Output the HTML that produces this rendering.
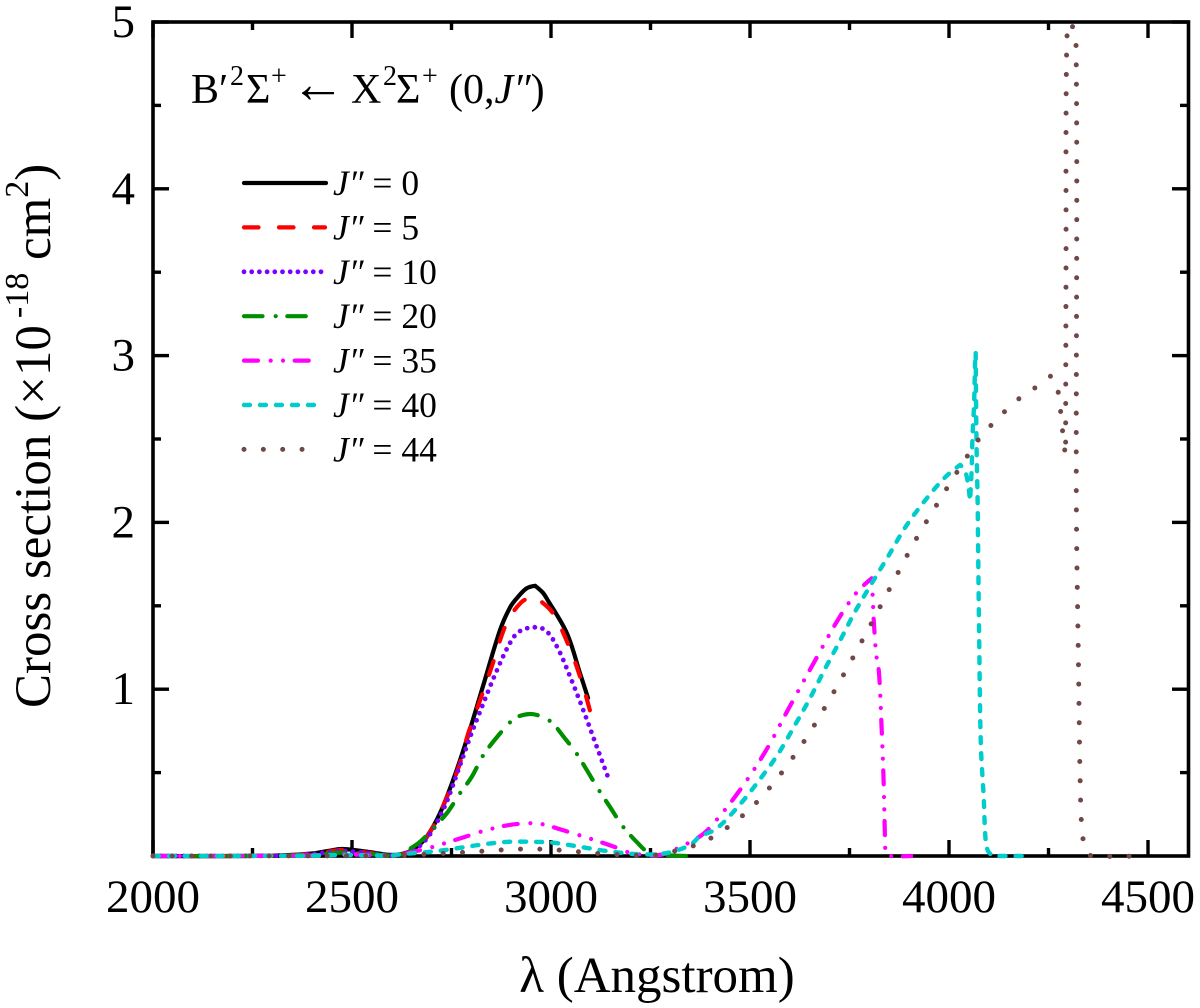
<!DOCTYPE html>
<html lang="en">
<head>
<meta charset="utf-8">
<title>Cross section chart</title>
<style>
html,body{margin:0;padding:0;background:#fff;}
svg{display:block;font-family:"Liberation Serif",serif;}
</style>
</head>
<body>
<svg id="chart" width="1200" height="1008" viewBox="0 0 1200 1008" xmlns="http://www.w3.org/2000/svg">
  <defs><clipPath id="plot-clip"><rect x="150" y="22" width="1040" height="840"/></clipPath></defs>
  <rect x="0" y="0" width="1200" height="1008" fill="#fff"/>
  <g id="ticks"></g>
  <rect x="153" y="22" width="1035.5" height="834" fill="none" stroke="#000" stroke-width="3.6"/>
  <g id="tick-labels"></g>
  <g id="series" clip-path="url(#plot-clip)"></g>
  <g id="legend"></g>
  <text font-size="42" fill="#000"><tspan x="191" y="103">B&#8242;</tspan><tspan x="230" y="85" font-size="28">2</tspan><tspan x="246" y="103">&#931;</tspan><tspan x="271" y="85" font-size="28">+</tspan><tspan x="291" y="102" font-size="54">&#8592;</tspan><tspan x="351" y="103">X</tspan><tspan x="383" y="85" font-size="28">2</tspan><tspan x="396" y="103">&#931;</tspan><tspan x="422" y="85" font-size="28">+</tspan><tspan x="449" y="103">(0,</tspan><tspan font-style="italic">J&#8243;</tspan><tspan>)</tspan></text>
  <text x="657" y="992" font-size="51" text-anchor="middle" fill="#000">&#955; (Angstrom)</text>
  <text transform="translate(50,708) rotate(-90)" font-size="51" fill="#000">Cross section (&#215;10<tspan dx="7" dy="-22" font-size="34">-18</tspan><tspan dy="22"> cm</tspan><tspan dy="-22" font-size="34">2</tspan><tspan dy="22">)</tspan></text>
</svg>
<script>
const xTickLabels = [2000, 2500, 3000, 3500, 4000, 4500];
const xMinorTicks = [2250, 2750, 3250, 3750, 4250];
const yTickLabels = [1, 2, 3, 4, 5];
const yMinorTicks = [0.5, 1.5, 2.5, 3.5, 4.5];
const seriesLabels = ["0", "5", "10", "20", "35", "40", "44"];

const lambdaJ0 = [2000,2300,2400,2440,2475,2540,2600,2637,2663,2688,2721,2754,2788,2830,2872,2897,2914,2939,2960,2979,2989,3040,3073,3093];
const sigmaJ0 = [0,0.002,0.015,0.03,0.042,0.025,0.006,0.02,0.056,0.116,0.256,0.455,0.695,1.025,1.355,1.49,1.545,1.605,1.62,1.58,1.545,1.335,1.095,0.947];

const lambdaJ5 = [2000,2300,2400,2440,2475,2540,2600,2640,2670,2704,2746,2771,2792,2822,2851,2889,2925,2955,3002,3048,3081,3108];
const sigmaJ5 = [0,0.002,0.013,0.026,0.036,0.02,0.005,0.02,0.06,0.175,0.395,0.555,0.735,0.935,1.135,1.4,1.52,1.56,1.465,1.24,1.015,0.78];

const lambdaJ10 = [2000,2300,2400,2440,2475,2540,2600,2640,2670,2696,2713,2738,2767,2801,2830,2859,2892,2917,2952,2985,3015,3048,3081,3115,3146];
const sigmaJ10 = [0,0.002,0.012,0.022,0.03,0.018,0.005,0.02,0.06,0.13,0.2,0.325,0.515,0.74,0.915,1.085,1.255,1.34,1.37,1.355,1.255,1.075,0.875,0.655,0.455];

const lambdaJ20 = [2000,2300,2400,2440,2475,2540,2600,2625,2650,2671,2708,2741,2771,2801,2830,2872,2901,2922,2955,2997,3035,3064,3090,3119,3148,3178,3215,3248,3300,3340];
const sigmaJ20 = [0,0.001,0.008,0.014,0.02,0.012,0.003,0.01,0.05,0.085,0.175,0.265,0.375,0.475,0.605,0.735,0.81,0.84,0.85,0.81,0.705,0.615,0.515,0.4,0.295,0.185,0.085,0.018,0.004,0];

const lambdaJ35 = [2000,2300,2400,2475,2540,2600,2625,2663,2704,2738,2784,2830,2893,2952,2980,3030,3077,3123,3165,3198,3248,3281,3330,3374,3400,3467,3538,3600,3663,3722,3768,3806,3809,3811,3817,3824,3830,3835,3838,3840,3850,3905];
const sigmaJ35 = [0,0.001,0.004,0.01,0.006,0.003,0.01,0.03,0.055,0.08,0.115,0.15,0.185,0.197,0.19,0.155,0.12,0.085,0.05,0.02,0.005,0.01,0.06,0.117,0.172,0.37,0.624,0.897,1.17,1.42,1.58,1.665,1.515,1.41,1.21,1.1,0.806,0.503,0.219,0.018,0,0];

const lambdaJ40 = [2000,2300,2400,2475,2600,2620,2696,2746,2830,2893,2952,3005,3073,3140,3224,3291,3349,3374,3416,3475,3525,3571,3613,3651,3688,3726,3764,3806,3848,3890,3936,3990,4028,4042,4053,4057,4059,4063,4066,4067,4069,4072,4073,4076,4080,4087,4092,4098,4110,4200];
const sigmaJ40 = [0,0.001,0.002,0.006,0.003,0.01,0.025,0.04,0.07,0.085,0.085,0.08,0.055,0.03,0.01,0.018,0.065,0.117,0.164,0.31,0.46,0.613,0.785,0.947,1.12,1.29,1.465,1.635,1.8,1.97,2.12,2.27,2.345,2.3,2.13,2.325,2.51,2.71,3.0,3.02,2.5,2.115,1.88,1.27,0.665,0.36,0.095,0.03,0,0];

const lambdaJ44 = [2000,2400,2600,2700,2800,2904,2955,3000,3050,3100,3150,3200,3250,3294,3341,3387,3473,3545,3631,3707,3777,3846,3915,3991,4017,4044,4072,4105,4140,4175,4215,4257,4272,4279,4284,4289,4293,4294,4296,4305,4319,4320,4325,4330,4335,4345,4360,4480];
const sigmaJ44 = [0,0.001,0.003,0.012,0.025,0.04,0.042,0.038,0.03,0.018,0.01,0.005,0.003,0.02,0.05,0.087,0.225,0.397,0.67,0.968,1.27,1.58,1.89,2.19,2.29,2.39,2.49,2.58,2.665,2.74,2.805,2.88,2.805,2.695,2.58,2.465,2.4,3.5,4.9,5.0,4.9,2.11,1.2,0.4,0.13,0.02,0,0];

const lambdaSeries = [lambdaJ0, lambdaJ5, lambdaJ10, lambdaJ20, lambdaJ35, lambdaJ40, lambdaJ44];
const sigmaSeries = [sigmaJ0, sigmaJ5, sigmaJ10, sigmaJ20, sigmaJ35, sigmaJ40, sigmaJ44];

const NS = "http://www.w3.org/2000/svg";
function xScale(v){ return 153 + (v - 2000) * 0.398; }
function yScale(v){ return 856 - v * 166.8; }

function seriesLook(i){
  if(i === 0) return {color:"#000000", width:4.2, dash:"", cap:"round", legendLen:83};
  if(i === 1) return {color:"#ff0000", width:4.2, dash:"14.5 20.5", cap:"round", legendLen:82};
  if(i === 2) return {color:"#7b00ff", width:4.8, dash:"0 7.7", cap:"round", legendLen:79};
  if(i === 3) return {color:"#008f00", width:4.2, dash:"18.5 13.2 0 11.6", cap:"round", legendLen:76};
  if(i === 4) return {color:"#ff00ff", width:4.2, dash:"14 12.7 0 12.3 0 11.7", cap:"round", legendLen:78};
  if(i === 5) return {color:"#00cccc", width:4.4, dash:"6 10", cap:"round", legendLen:71};
  return {color:"#704848", width:5, dash:"0 19.35", cap:"round", legendLen:78};
}

// Build a smooth path through the points, keeping sharp corners sharp.
function smoothPath(px, py){
  const n = px.length;
  const tx = [], ty = [];
  for(let i = 0; i < n; i++){
    tx.push(0);
    ty.push(0);
    if(i === 0 || i === n - 1) continue;
    const ax = px[i] - px[i-1], ay = py[i] - py[i-1];
    const bx = px[i+1] - px[i], by = py[i+1] - py[i];
    const la = Math.hypot(ax, ay) || 1, lb = Math.hypot(bx, by) || 1;
    const cos = (ax * bx + ay * by) / (la * lb);
    if(cos < 0.7) continue;
    const cx = px[i+1] - px[i-1], cy = py[i+1] - py[i-1];
    const lc = Math.hypot(cx, cy) || 1;
    tx[i] = cx / lc;
    ty[i] = cy / lc;
  }
  let d = "M" + px[0].toFixed(2) + " " + py[0].toFixed(2);
  for(let i = 0; i < n - 1; i++){
    const len = Math.hypot(px[i+1] - px[i], py[i+1] - py[i]) / 3;
    d += "C" + (px[i] + tx[i] * len).toFixed(2) + " " + (py[i] + ty[i] * len).toFixed(2) + " " +
         (px[i+1] - tx[i+1] * len).toFixed(2) + " " + (py[i+1] - ty[i+1] * len).toFixed(2) + " " +
         px[i+1].toFixed(2) + " " + py[i+1].toFixed(2);
  }
  return d;
}

const ticksG = document.getElementById("ticks");
function drawTick(x1, y1, x2, y2, name){
  const t = document.createElementNS(NS, "line");
  t.setAttribute("x1", x1);
  t.setAttribute("y1", y1);
  t.setAttribute("x2", x2);
  t.setAttribute("y2", y2);
  t.setAttribute("stroke", "#000");
  t.setAttribute("stroke-width", "3.4");
  
  
  ticksG.appendChild(t);
}
xTickLabels.forEach(function(v){
  drawTick(xScale(v), 856, xScale(v), 840, "x-major-tick");
  drawTick(xScale(v), 22, xScale(v), 38, "x-major-tick-top");
});
xMinorTicks.forEach(function(v){
  drawTick(xScale(v), 856, xScale(v), 848, "x-minor-tick");
  drawTick(xScale(v), 22, xScale(v), 30, "x-minor-tick-top");
});
yTickLabels.forEach(function(v){
  drawTick(153, yScale(v), 169, yScale(v), "y-major-tick");
  drawTick(1188, yScale(v), 1172, yScale(v), "y-major-tick-right");
});
yMinorTicks.forEach(function(v){
  drawTick(153, yScale(v), 161, yScale(v), "y-minor-tick");
  drawTick(1188, yScale(v), 1180, yScale(v), "y-minor-tick-right");
});

const labelsG = document.getElementById("tick-labels");
xTickLabels.forEach(function(v){
  const t = document.createElementNS(NS, "text");
  t.setAttribute("x", xScale(v));
  t.setAttribute("y", 912);
  t.setAttribute("font-size", "47");
  t.setAttribute("text-anchor", "middle");
  t.textContent = v;
  
  
  labelsG.appendChild(t);
});
yTickLabels.forEach(function(v){
  const t = document.createElementNS(NS, "text");
  t.setAttribute("x", 135);
  t.setAttribute("y", yScale(v) + 15);
  t.setAttribute("font-size", "47");
  t.setAttribute("text-anchor", "end");
  t.textContent = v;
  
  
  labelsG.appendChild(t);
});

const seriesG = document.getElementById("series");
lambdaSeries.forEach(function(lam, i){
  const look = seriesLook(i);
  const sig = sigmaSeries[i];
  const p = document.createElementNS(NS, "path");
  p.setAttribute("d", smoothPath(lam.map(xScale), sig.map(yScale)));
  p.setAttribute("fill", "none");
  p.setAttribute("stroke", look.color);
  p.setAttribute("stroke-width", look.width);
  p.setAttribute("stroke-linecap", look.cap);
  p.setAttribute("stroke-linejoin", "round");
  if(look.dash) p.setAttribute("stroke-dasharray", look.dash);
  
  
  seriesG.appendChild(p);
});

const legendG = document.getElementById("legend");
seriesLabels.forEach(function(lab, i){
  const look = seriesLook(i);
  const ly = 183 + i * 44.4;
  const l = document.createElementNS(NS, "line");
  l.setAttribute("x1", 244);
  l.setAttribute("y1", ly);
  l.setAttribute("x2", 244 + look.legendLen - 1);
  l.setAttribute("y2", ly);
  l.setAttribute("stroke", look.color);
  l.setAttribute("stroke-width", look.width);
  l.setAttribute("stroke-linecap", look.cap);
  if(look.dash) l.setAttribute("stroke-dasharray", look.dash);
  
  
  legendG.appendChild(l);
  const t = document.createElementNS(NS, "text");
  t.setAttribute("x", 333);
  t.setAttribute("y", ly + 12);
  t.setAttribute("font-size", "35.5");
  const it = document.createElementNS(NS, "tspan");
  it.setAttribute("font-style", "italic");
  it.textContent = "J\u2033";
  t.appendChild(it);
  t.appendChild(document.createTextNode(" = " + lab));
  
  
  legendG.appendChild(t);
});
</script>
</body>
</html>
